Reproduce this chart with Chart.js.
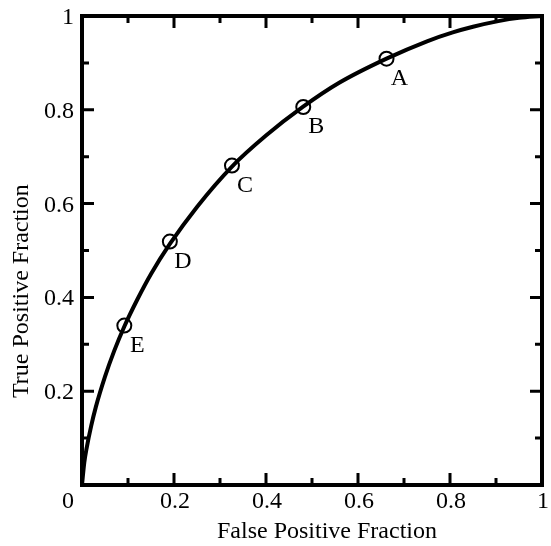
<!DOCTYPE html>
<html>
<head>
<meta charset="utf-8">
<script src="https://cdn.jsdelivr.net/npm/chart.js@4"></script>
<style>
  html, body { margin: 0; padding: 0; background: #fff; overflow: hidden; }
</style>
</head>
<body>
<canvas id="rocChart" width="551" height="546"></canvas>
<script>
// ROC curve
const curveFpf = [0, 0.005, 0.01, 0.02, 0.03, 0.05, 0.07, 0.092, 0.12, 0.15, 0.191, 0.25, 0.325, 0.40, 0.48, 0.56, 0.662, 0.75, 0.806, 0.85, 0.905, 0.95, 1.0];
const curveTpf = [0, 0.048, 0.078, 0.126, 0.166, 0.231, 0.286, 0.338, 0.395, 0.450, 0.514, 0.593, 0.678, 0.745, 0.806, 0.858, 0.909, 0.946, 0.965, 0.977, 0.989, 0.996, 1.0];

// operating points
const pointLabels = ['A', 'B', 'C', 'D', 'E'];
const pointFpf = [0.662, 0.481, 0.326, 0.191, 0.092];
const pointTpf = [0.909, 0.806, 0.681, 0.519, 0.340];

const tickValues = [0, 0.1, 0.2, 0.3, 0.4, 0.5, 0.6, 0.7, 0.8, 0.9, 1];
const tickLabels = ['0', '', '0.2', '', '0.4', '', '0.6', '', '0.8', '', '1'];

const serif = '"Liberation Serif", "DejaVu Serif", serif';

const axesPlugin = {
  id: 'axesPlugin',
  afterDraw(chart) {
    const ctx = chart.ctx;
    const xs = chart.scales.x, ys = chart.scales.y;
    const a = chart.chartArea;
    ctx.save();
    ctx.strokeStyle = '#000';
    ctx.fillStyle = '#000';

    // frame
    ctx.lineWidth = 4;
    ctx.strokeRect(a.left, a.top, a.right - a.left, a.bottom - a.top);

    // inward ticks on all four sides
    ctx.lineWidth = 3;
    tickValues.forEach((v, i) => {
      if (v === 0 || v === 1) return;
      const len = tickLabels[i] ? 12 : 7;
      const px = xs.getPixelForValue(v);
      const py = ys.getPixelForValue(v);
      ctx.beginPath();
      ctx.moveTo(px, a.bottom); ctx.lineTo(px, a.bottom - len);
      ctx.moveTo(px, a.top); ctx.lineTo(px, a.top + len);
      ctx.moveTo(a.left, py); ctx.lineTo(a.left + len, py);
      ctx.moveTo(a.right, py); ctx.lineTo(a.right - len, py);
      ctx.stroke();
    });

    // tick labels
    ctx.font = '24px ' + serif;
    ctx.textBaseline = 'alphabetic';
    tickValues.forEach((v, i) => {
      const t = tickLabels[i];
      if (!t) return;
      if (v === 0) {
        ctx.textAlign = 'right';
        ctx.fillText(t, a.left - 8, a.bottom + 23);
        return;
      }
      ctx.textAlign = 'center';
      ctx.fillText(t, xs.getPixelForValue(v) + 1, a.bottom + 23);
      ctx.textAlign = 'right';
      ctx.fillText(t, a.left - 8, ys.getPixelForValue(v) + 8);
    });

    // axis titles
    ctx.textAlign = 'left';
    ctx.fillText('False Positive Fraction', 217, 538);
    ctx.save();
    ctx.translate(28, 398);
    ctx.rotate(-Math.PI / 2);
    ctx.fillText('True Positive Fraction', 0, 0);
    ctx.restore();

    // point letters
    const meta = chart.getDatasetMeta(1);
    ctx.textAlign = 'center';
    meta.data.forEach((pt, i) => {
      ctx.fillText(pointLabels[i], pt.x + 13, pt.y + 26);
    });
    ctx.restore();
  }
};

new Chart(document.getElementById('rocChart').getContext('2d'), {
  type: 'line',
  data: {
    datasets: [
      {
        label: 'ROC',
        data: curveFpf.map((x, i) => ({ x: x, y: curveTpf[i] })),
        borderColor: '#000',
        borderWidth: 4,
        pointRadius: 0,
        cubicInterpolationMode: 'monotone',
        fill: false,
      },
      {
        label: 'Operating points',
        data: pointFpf.map((x, i) => ({ x: x, y: pointTpf[i] })),
        showLine: false,
        pointStyle: 'circle',
        pointRadius: 7,
        pointBorderWidth: 2,
        pointBorderColor: '#000',
        pointBackgroundColor: 'rgba(0,0,0,0)',
      }
    ]
  },
  options: {
    responsive: false,
    animation: false,
    layout: { padding: { left: 82, top: 16, right: 4, bottom: 61 } },
    plugins: {
      legend: { display: false },
      tooltip: { enabled: false },
    },
    scales: {
      x: { type: 'linear', min: 0, max: 1, display: false },
      y: { type: 'linear', min: 0, max: 1, display: false },
    }
  },
  plugins: [axesPlugin]
});
</script>
</body>
</html>
